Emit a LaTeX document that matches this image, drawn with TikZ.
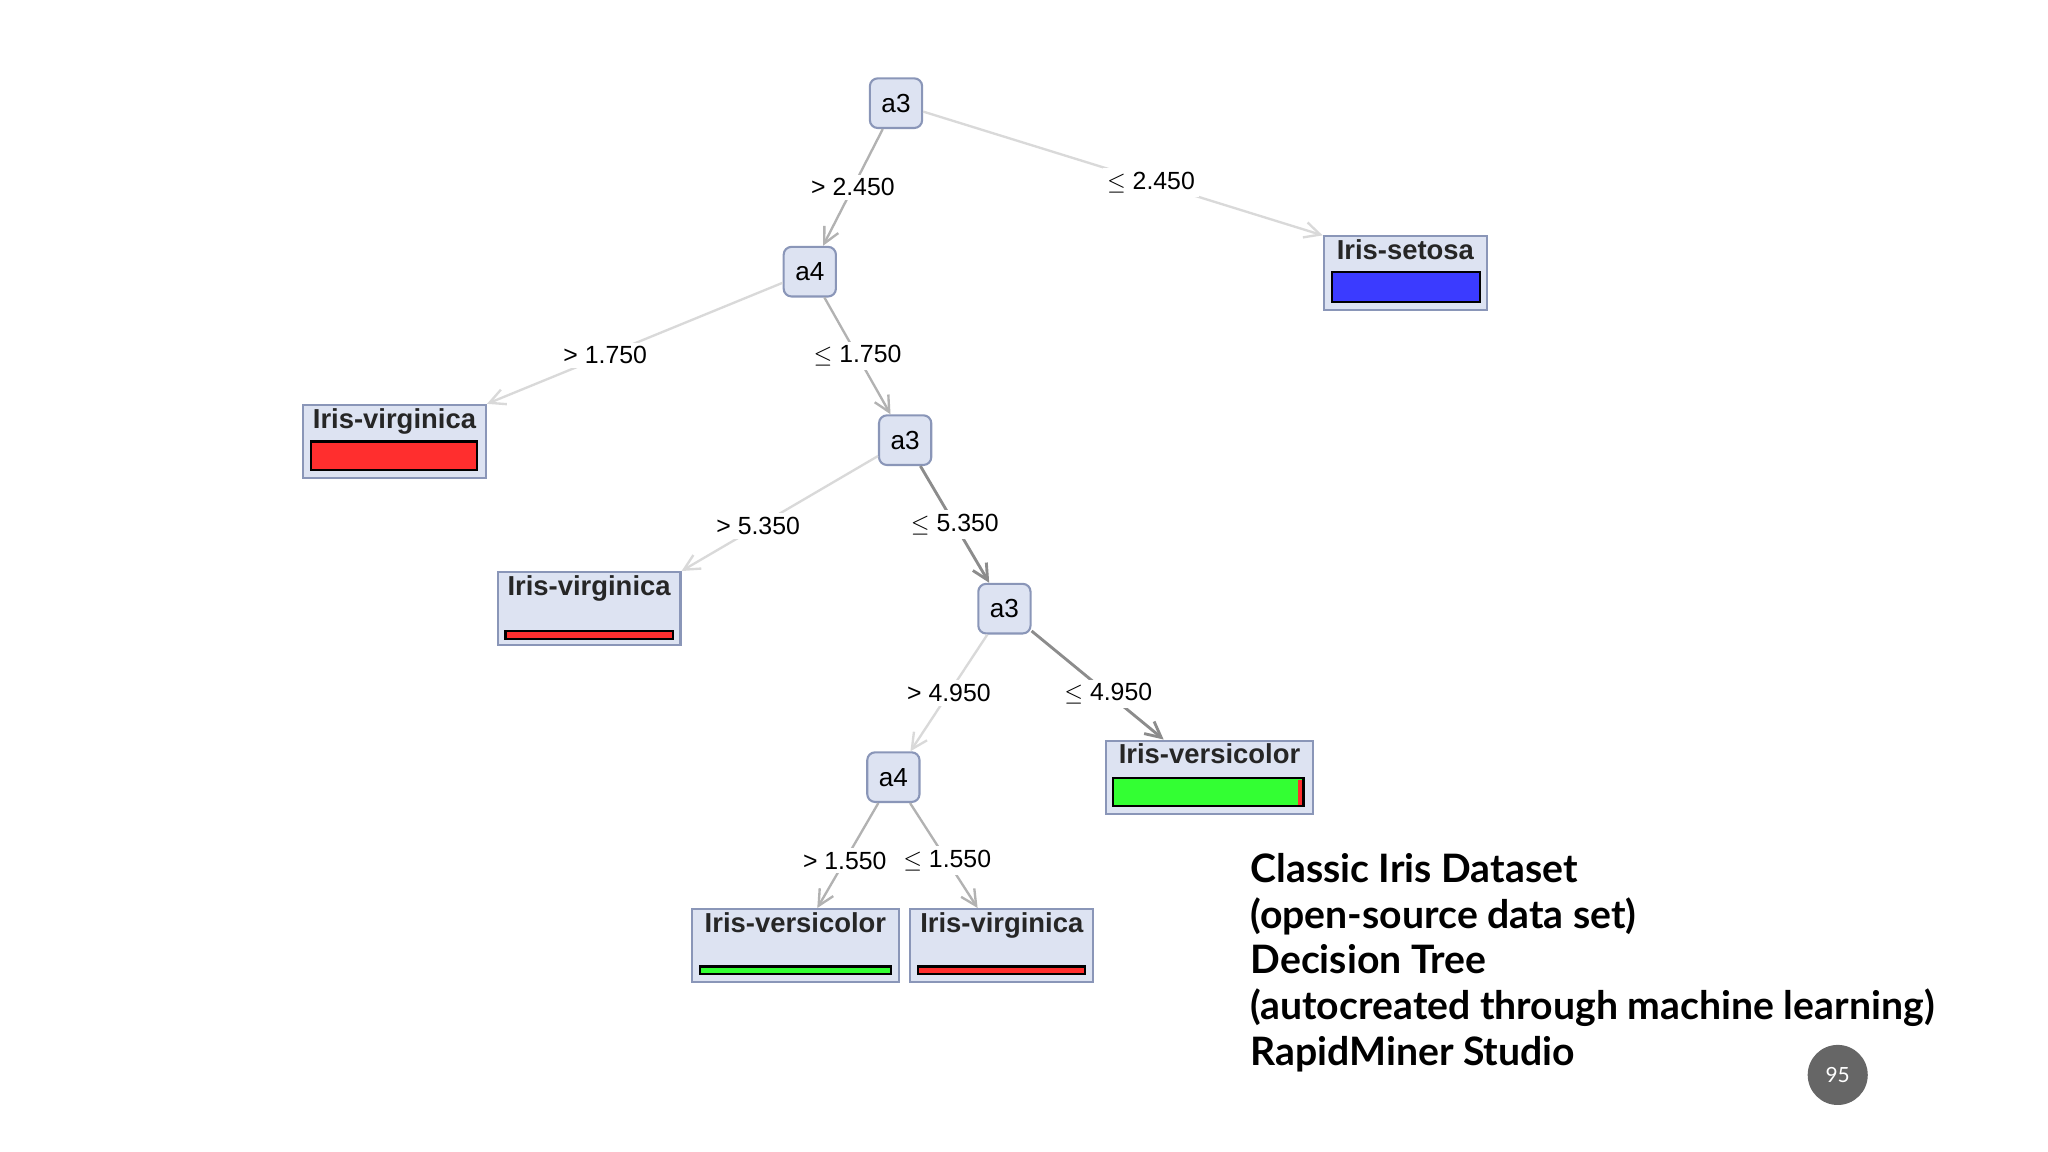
\documentclass[tikz,border=0pt]{standalone}
\usepackage{fontspec}
\setmainfont{Liberation Sans}
\newfontfamily\capfont{Lato}
\usetikzlibrary{arrows.meta}
\definecolor{nodefill}{HTML}{DDE3F2}
\definecolor{nodeline}{HTML}{8A96B8}
\definecolor{setosa}{HTML}{3B3BFF}
\definecolor{virginica}{HTML}{FF2E2E}
\definecolor{versicolor}{HTML}{33FF33}
\tikzset{%
    split/.style={
      rectangle,
      rounded corners=3pt,
      draw=nodeline,
      fill=nodefill,
      line width=0.8pt,
      inner sep=0pt,
      minimum width=20pt,
      minimum height=19pt,
      font=\fontsize{10}{12}\selectfont
    },
    leaf/.style={
      rectangle,
      draw=nodeline,
      fill=nodefill,
      line width=0.8pt,
      inner sep=0pt,
      minimum height=28pt
    },
    title/.style={
      anchor=north,
      inner sep=1.5pt,
      font=\fontsize{10.5}{12}\selectfont\bfseries,
      text=black!85
    },
    bar/.style={
      draw=black,
      line width=0.8pt
    },
    cond/.style={
      fill=white,
      inner sep=1.5pt,
      font=\fontsize{9.5}{11}\selectfont
    },
    edge/.style={
      draw=gray!60,
      line width=0.9pt,
      -{Straight Barb[length=6pt,width=6pt]}
    },
    heavy/.style={
      edge,
      draw=gray!90,
      line width=1.1pt
    },
    light/.style={
      edge,
      draw=gray!30
    }
  }
\begin{document}
\begin{tikzpicture}[x=0.5pt, y=-0.5pt]
    \useasboundingbox (0,0) rectangle (1568,882);

    % inner splits
    \node [split] (s1) at (686,79) {a3};
    \node [split] (s2) at (620,208) {a4};
    \node [split] (s3) at (693,337) {a3};
    \node [split] (s4) at (769,466) {a3};
    \node [split] (s5) at (684,595) {a4};

    % leaves
    \node [leaf, minimum width=62.5pt, label={[title]north:Iris-setosa}] (setosa) at (1076,209) {};
    \node [leaf, minimum width=70pt, label={[title]north:Iris-virginica}] (virg1) at (302,338) {};
    \node [leaf, minimum width=70pt, label={[title]north:Iris-virginica}] (virg2) at (451,466) {};
    \node [leaf, minimum width=79pt, label={[title]north:Iris-versicolor}] (vers1) at (926,595) {};
    \node [leaf, minimum width=79pt, label={[title]north:Iris-versicolor}] (vers2) at (609,724) {};
    \node [leaf, minimum width=70pt, label={[title]north:Iris-virginica}] (virg3) at (767,724) {};

    % class bars
    \draw [bar, fill=setosa] (1020,208) rectangle (1133,231);
    \draw [bar, fill=virginica] (238,338) rectangle (365,360);
    \draw [bar, fill=virginica] (387,483) rectangle (515,489);
    \draw [bar, fill=versicolor] (852,596) rectangle (998,617);
    \fill [virginica] (994,597) rectangle (997,616);
    \draw [bar, fill=versicolor] (536,740) rectangle (682,746);
    \draw [bar, fill=virginica] (703,740) rectangle (831,746);

    \draw [edge] (s1) -- node [cond, pos=0.5] {> 2.450} (s2);
    \draw [light] (s1) -- node [cond, pos=0.57] {$\leq$ 2.450} (setosa.north west);
    \draw [light] (s2) -- node [cond, pos=0.6] {> 1.750} (virg1.north east);
    \draw [edge] (s2) -- node [cond, pos=0.5] {$\leq$ 1.750} (s3);
    \draw [light] (s3) -- node [cond, pos=0.61] {> 5.350} (virg2.north east);
    \draw [heavy] (s3) -- node [cond, pos=0.5] {$\leq$ 5.350} (s4);
    \draw [light] (s4) -- node [cond, pos=0.5] {> 4.950} (s5);
    \draw [heavy] (s4) -- node [cond, pos=0.58] {$\leq$ 4.950} (vers1);
    \draw [edge] (s5) -- node [cond, pos=0.55] {> 1.550} (vers2);
    \draw [edge] (s5) -- node [cond, pos=0.55] {$\leq$ 1.550} (virg3);

    \node [anchor=north west, align=left, inner sep=0pt,
      font=\capfont\bfseries\fontsize{15}{17.5}\selectfont] (caption) at (957,653)
      {Classic Iris Dataset\\(open-source data set)\\Decision Tree\\(autocreated through machine learning)\\RapidMiner Studio};

    \node [circle, fill=black!60, minimum size=23pt, inner sep=0pt, text=white,
      font=\capfont\fontsize{8}{9}\selectfont] (page) at (1407,823) {95};
\end{tikzpicture}
\end{document}
